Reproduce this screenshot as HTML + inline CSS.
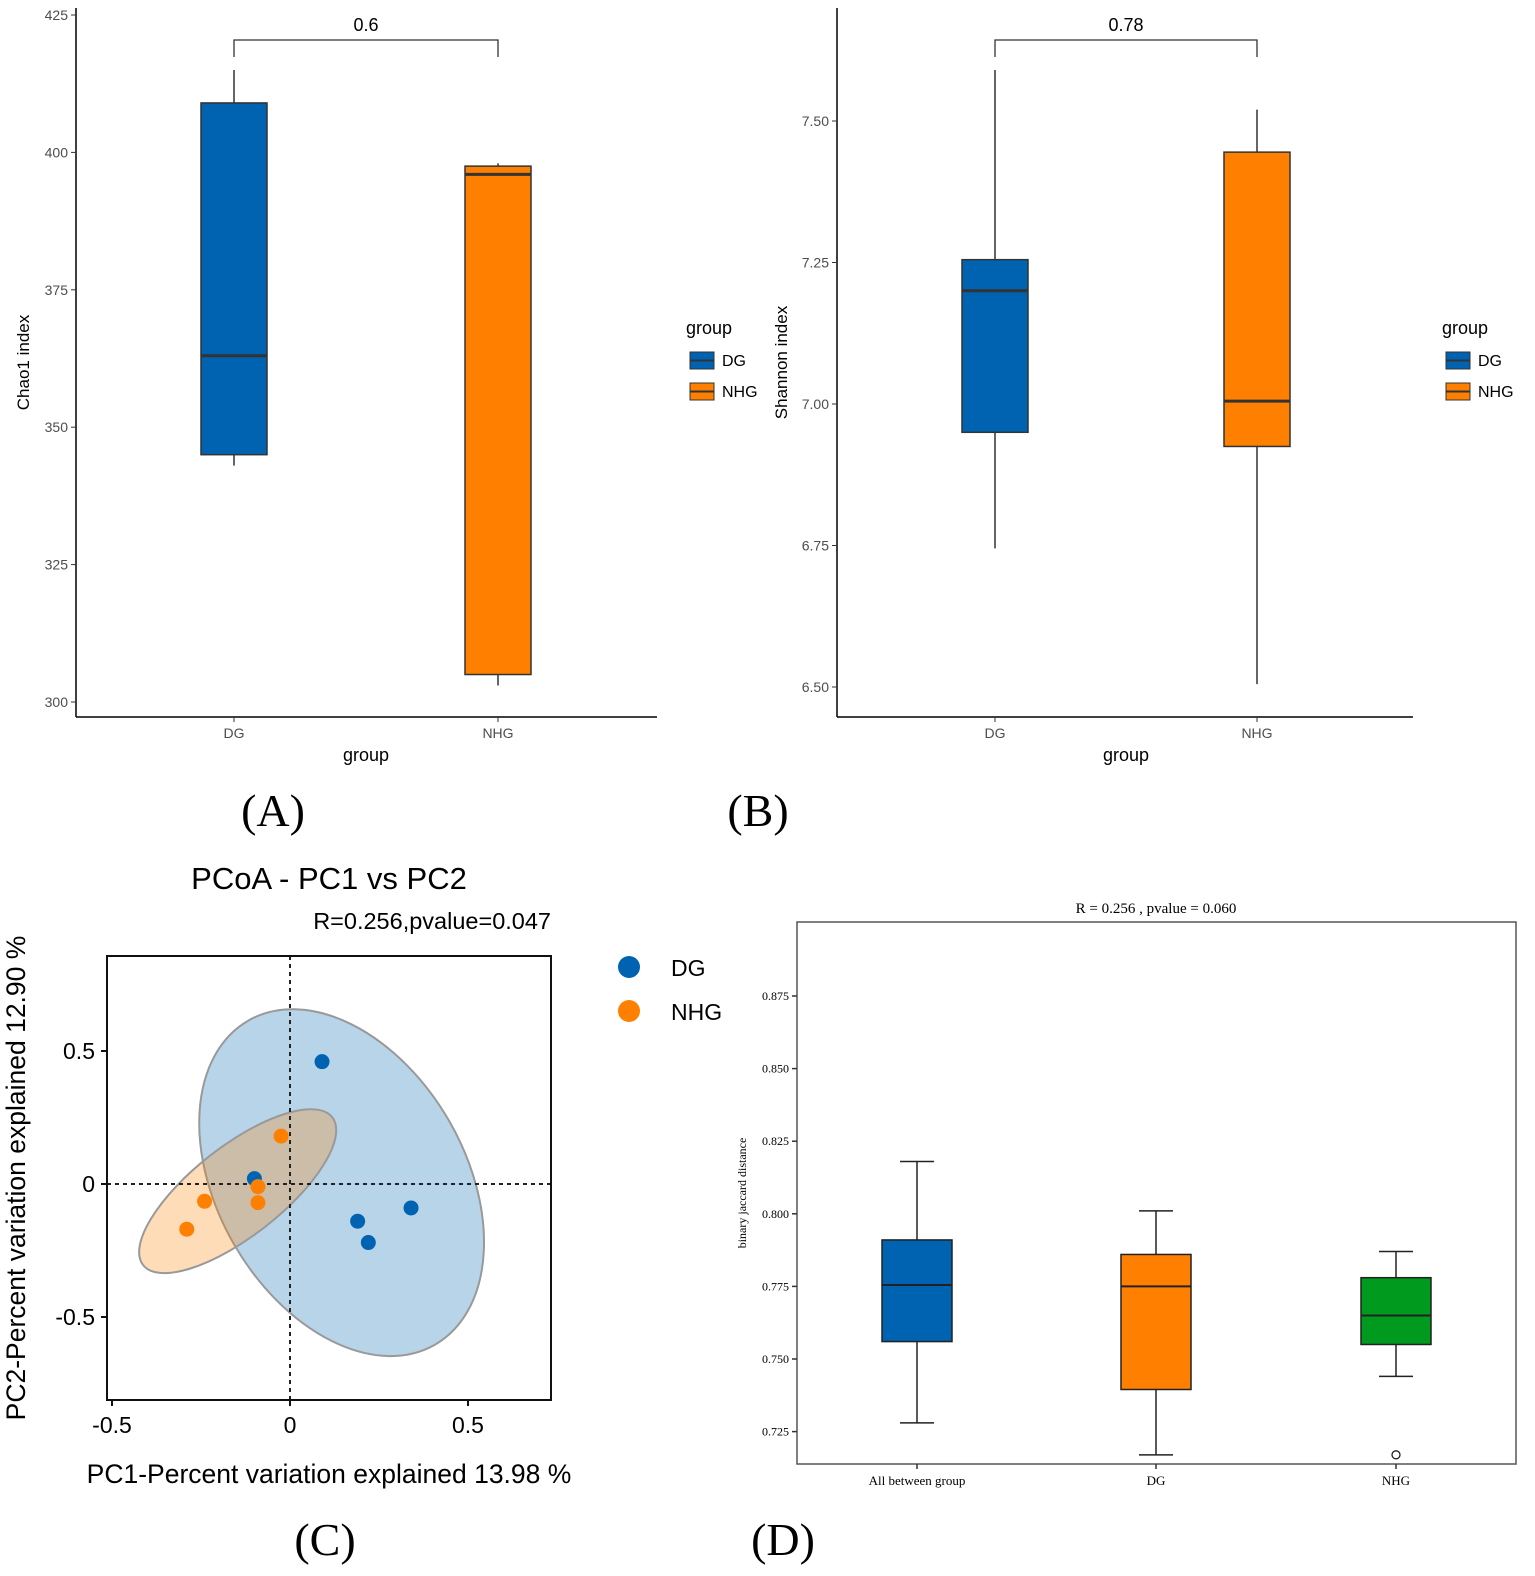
<!DOCTYPE html>
<html><head><meta charset="utf-8"><style>
html,body{margin:0;padding:0;background:#fff}
svg{display:block}
text{font-family:"Liberation Sans",sans-serif}
.serif{font-family:"Liberation Serif",serif}
</style></head><body>
<svg id="fig" width="1535" height="1576" viewBox="0 0 1535 1576" xmlns="http://www.w3.org/2000/svg">
<g id="pA"></g>
<g id="pB"></g>
<g id="pC"></g>
<g id="pD"></g>
<text class="serif" x="273" y="826" font-size="46" text-anchor="middle">(A)</text>
<text class="serif" x="758" y="826" font-size="46" text-anchor="middle">(B)</text>
<text class="serif" x="325" y="1555" font-size="46" text-anchor="middle">(C)</text>
<text class="serif" x="783" y="1555" font-size="46" text-anchor="middle">(D)</text>
</svg>
<script>
// ---------- data ----------
const abGroups = ["DG","NHG"];
const chaoStats = [[343,345,363,409,415],[303,305,396,397.5,398]];
const chaoTicks = [300,325,350,375,400,425];
const chaoP = "0.6";
const shanStats = [[6.745,6.95,7.2,7.255,7.59],[6.505,6.925,7.005,7.445,7.52]];
const shanTicks = [6.50,6.75,7.00,7.25,7.50];
const shanP = "0.78";
const pcoaDGx = [0.09,-0.10,0.19,0.22,0.34];
const pcoaDGy = [0.46,0.02,-0.14,-0.22,-0.09];
const pcoaNHGx = [-0.025,-0.24,-0.09,-0.09,-0.29];
const pcoaNHGy = [0.18,-0.065,-0.01,-0.07,-0.17];
const pcoaTicks = [-0.5,0,0.5];
const dCats = ["All between group","DG","NHG"];
const dStats = [[0.728,0.756,0.7755,0.791,0.818],[0.717,0.7395,0.775,0.786,0.801],[0.744,0.755,0.765,0.778,0.787]];
const dOutliers = [[],[],[0.717]];
const dTicks = [0.725,0.750,0.775,0.800,0.825,0.850,0.875];

const NS="http://www.w3.org/2000/svg";
function mk(parent,tag,attrs,txt){const e=document.createElementNS(NS,tag);for(const k in attrs)e.setAttribute(k,attrs[k]);if(txt!==undefined)e.textContent=txt;parent.appendChild(e);return e;}
const colors=["#0063B1","#FF8000","#009A1F"];

function boxPanel(g,cfg){
  const y=v=>cfg.y0+(v-cfg.v0)*cfg.k;
  let e=mk(g,'line',{x1:cfg.ax,y1:cfg.top,x2:cfg.ax,y2:cfg.bot,stroke:'#000','stroke-width':1.5});
  
  e=mk(g,'line',{x1:cfg.ax,y1:cfg.bot,x2:cfg.right,y2:cfg.bot,stroke:'#000','stroke-width':1.5});
  
  cfg.ticks.forEach(t=>{
    mk(g,'line',{x1:cfg.ax-5,y1:y(t),x2:cfg.ax,y2:y(t),stroke:'#333'});
    e=mk(g,'text',{x:cfg.ax-8,y:y(t)+5,'font-size':14,fill:'#4d4d4d','text-anchor':'end'},cfg.fmt(t));
    
  });
  abGroups.forEach((c,i)=>{
    const x=cfg.xs[i], s=cfg.stats[i], w=33;
    mk(g,'line',{x1:x,y1:cfg.bot,x2:x,y2:cfg.bot+5,stroke:'#333'});
    e=mk(g,'text',{x:x,y:cfg.bot+21,'font-size':14,fill:'#4d4d4d','text-anchor':'middle'},c);
    
    e=mk(g,'line',{x1:x,y1:y(s[0]),x2:x,y2:y(s[4]),stroke:'#333','stroke-width':1.5});
    
    e=mk(g,'rect',{x:x-w,y:y(s[3]),width:2*w,height:y(s[1])-y(s[3]),fill:colors[i],stroke:'#333','stroke-width':1.5});
    
    e=mk(g,'line',{x1:x-w,y1:y(s[2]),x2:x+w,y2:y(s[2]),stroke:'#333','stroke-width':3});
    
  });
  e=mk(g,'path',{d:`M${cfg.xs[0]},57 V40 H${cfg.xs[1]} V57`,fill:'none',stroke:'#333','stroke-width':1.3});
  
  e=mk(g,'text',{x:(cfg.xs[0]+cfg.xs[1])/2,y:31,'font-size':18,'text-anchor':'middle'},cfg.p);
  
  e=mk(g,'text',{x:(cfg.xs[0]+cfg.xs[1])/2,y:761,'font-size':18,'text-anchor':'middle'},'group');
  
  e=mk(g,'text',{x:0,y:0,'font-size':17,'text-anchor':'middle',transform:`translate(${cfg.ytx},${(cfg.top+cfg.bot)/2}) rotate(-90)`},cfg.ytitle);
  
  e=mk(g,'text',{x:cfg.lx,y:334,'font-size':18},'group');
  
  abGroups.forEach((c,i)=>{
    const ly=352+i*31;
    const lg=mk(g,'g',{});
    
    mk(lg,'rect',{x:cfg.lx+4,y:ly,width:24,height:17,fill:colors[i],stroke:'#333'});
    mk(lg,'line',{x1:cfg.lx+4,y1:ly+8.5,x2:cfg.lx+28,y2:ly+8.5,stroke:'#333','stroke-width':2});
    mk(lg,'text',{x:cfg.lx+36,y:ly+14,'font-size':16},c);
  });
}
boxPanel(document.getElementById('pA'),{stats:chaoStats,ticks:chaoTicks,v0:300,y0:702,k:-(702-15)/125,ax:76,top:8,bot:717,right:657,xs:[234,498],p:chaoP,fmt:t=>String(t),ytitle:'Chao1 index',ytx:29,lx:686});
boxPanel(document.getElementById('pB'),{stats:shanStats,ticks:shanTicks,v0:6.5,y0:687,k:-(687-121),ax:837,top:8,bot:717,right:1413,xs:[995,1257],p:shanP,fmt:t=>t.toFixed(2),ytitle:'Shannon index',ytx:787,lx:1442});

// ---------- panel C ----------
(function(){
  const g=document.getElementById('pC');
  const L=107,R=551,T=956,B=1400;
  const X=v=>290+v*356, Y=v=>1184-v*266;
  let e;
  e=mk(g,'text',{x:329,y:889,'font-size':31,'text-anchor':'middle'},'PCoA - PC1 vs PC2');
  
  e=mk(g,'text',{x:551,y:929,'font-size':23.5,'text-anchor':'end'},'R=0.256,pvalue=0.047');
  
  e=mk(g,'ellipse',{cx:X(0.145),cy:Y(0.005),rx:187,ry:124,transform:`rotate(60 ${X(0.145)} ${Y(0.005)})`,fill:'rgba(0,99,177,0.28)',stroke:'#999','stroke-width':2});
  
  e=mk(g,'ellipse',{cx:X(-0.147),cy:Y(-0.027),rx:120,ry:45,transform:`rotate(-38 ${X(-0.147)} ${Y(-0.027)})`,fill:'rgba(255,128,0,0.28)',stroke:'#999','stroke-width':2});
  
  e=mk(g,'line',{x1:X(0),y1:T,x2:X(0),y2:B,stroke:'#222','stroke-width':2,'stroke-dasharray':'4,4'});
  
  e=mk(g,'line',{x1:L,y1:Y(0),x2:R,y2:Y(0),stroke:'#222','stroke-width':2,'stroke-dasharray':'4,4'});
  
  pcoaDGx.forEach((v,i)=>{e=mk(g,'circle',{cx:X(v),cy:Y(pcoaDGy[i]),r:7.5,fill:'#0063B1'});
    });
  pcoaNHGx.forEach((v,i)=>{e=mk(g,'circle',{cx:X(v),cy:Y(pcoaNHGy[i]),r:7.5,fill:'#FF8000'});
    });
  e=mk(g,'rect',{x:L,y:T,width:R-L,height:B-T,fill:'none',stroke:'#111','stroke-width':2});
  
  pcoaTicks.forEach(t=>{
    mk(g,'line',{x1:X(t),y1:B,x2:X(t),y2:B+6,stroke:'#111','stroke-width':2});
    e=mk(g,'text',{x:X(t),y:B+33,'font-size':23,'text-anchor':'middle'},String(t));
    
    mk(g,'line',{x1:L-6,y1:Y(t),x2:L,y2:Y(t),stroke:'#111','stroke-width':2});
    e=mk(g,'text',{x:L-12,y:Y(t)+8,'font-size':23,'text-anchor':'end'},String(t));
    
  });
  e=mk(g,'text',{x:329,y:1483,'font-size':26.5,'text-anchor':'middle'},'PC1-Percent variation explained 13.98 %');
  
  e=mk(g,'text',{x:0,y:0,'font-size':26.5,'text-anchor':'middle',transform:'translate(25,1178) rotate(-90)'},'PC2-Percent variation explained 12.90 %');
  
  ['DG','NHG'].forEach((c,i)=>{
    const lg=mk(g,'g',{});
    
    mk(lg,'circle',{cx:629,cy:967+i*44,r:11,fill:colors[i]});
    mk(lg,'text',{x:671,y:976+i*44,'font-size':23},c);
  });
})();

// ---------- panel D ----------
(function(){
  const g=document.getElementById('pD');
  const L=797,R=1516,T=922,B=1464;
  const Y=v=>996+(0.875-v)/0.025*72.6;
  const xs=[917,1156,1396], w=35;
  let e;
  e=mk(g,'text',{x:1156,y:913,'font-size':15,'text-anchor':'middle',class:'serif'},'R = 0.256 , pvalue = 0.060');
  
  e=mk(g,'rect',{x:L,y:T,width:R-L,height:B-T,fill:'none',stroke:'#555','stroke-width':1.5});
  
  dTicks.forEach(t=>{
    mk(g,'line',{x1:L-5,y1:Y(t),x2:L,y2:Y(t),stroke:'#333','stroke-width':1.5});
    e=mk(g,'text',{x:L-8,y:Y(t)+4,'font-size':12,'text-anchor':'end',class:'serif'},t.toFixed(3));
    
  });
  e=mk(g,'text',{x:0,y:0,'font-size':12,'text-anchor':'middle',class:'serif',transform:'translate(746,1193) rotate(-90)'},'binary jaccard distance');
  
  dCats.forEach((c,i)=>{
    const x=xs[i], s=dStats[i];
    mk(g,'line',{x1:x,y1:B,x2:x,y2:B+5,stroke:'#333','stroke-width':1.5});
    e=mk(g,'text',{x:x,y:B+21,'font-size':13,'text-anchor':'middle',class:'serif'},c);
    
    mk(g,'line',{x1:x,y1:Y(s[0]),x2:x,y2:Y(s[1]),stroke:'#222','stroke-width':1.5});
    mk(g,'line',{x1:x,y1:Y(s[3]),x2:x,y2:Y(s[4]),stroke:'#222','stroke-width':1.5});
    mk(g,'line',{x1:x-17,y1:Y(s[0]),x2:x+17,y2:Y(s[0]),stroke:'#222','stroke-width':1.5});
    mk(g,'line',{x1:x-17,y1:Y(s[4]),x2:x+17,y2:Y(s[4]),stroke:'#222','stroke-width':1.5});
    e=mk(g,'rect',{x:x-w,y:Y(s[3]),width:2*w,height:Y(s[1])-Y(s[3]),fill:colors[i],stroke:'#222','stroke-width':1.5});
    
    mk(g,'line',{x1:x-w,y1:Y(s[2]),x2:x+w,y2:Y(s[2]),stroke:'#222','stroke-width':2});
    dOutliers[i].forEach(o=>{e=mk(g,'circle',{cx:x,cy:Y(o),r:4,fill:'none',stroke:'#222','stroke-width':1.3});
      });
  });
})();
</script>
</body></html>
